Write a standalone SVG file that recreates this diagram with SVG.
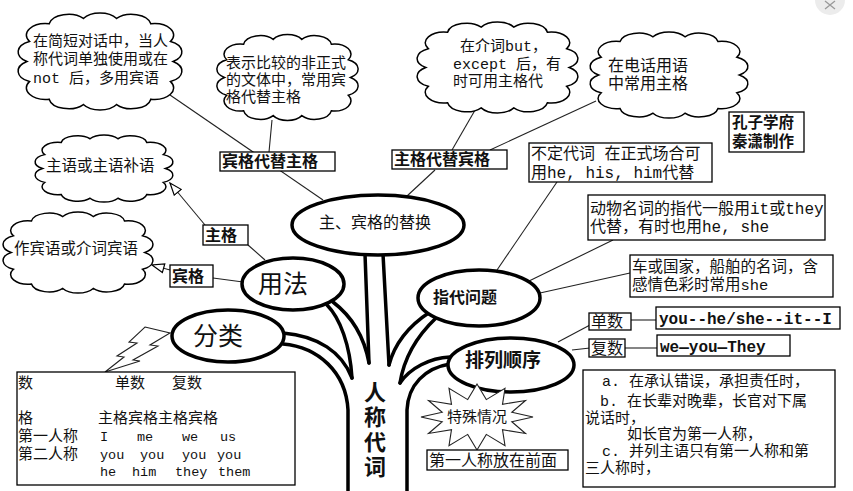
<svg xmlns="http://www.w3.org/2000/svg" xmlns:xlink="http://www.w3.org/1999/xlink" width="853" height="491" viewBox="0 0 853 491">
<style>
.cl{fill:#fff;stroke:#000}
.el{fill:#fff;stroke:#000;stroke-width:3.5}
.bx{fill:#fff;stroke:#000;stroke-width:1.3}
.ln{fill:none;stroke:#222;stroke-width:1.1}
.tr{fill:none;stroke:#000;stroke-width:3.5;stroke-linecap:round}
.t{font-family:"Noto Sans CJK SC",sans-serif;font-size:15px;fill:#111}
.ts{font-family:"Liberation Sans","Noto Sans CJK SC",sans-serif;font-size:15px;fill:#111}
.m{font-family:"Liberation Mono","Noto Sans CJK SC",monospace;font-size:15px;fill:#111}
.b{font-weight:bold}
.c{text-anchor:middle}
</style>
<defs>
<path id="cp" vector-effect="non-scaling-stroke" stroke-width="1.5" d="M90,0 A24,24 0 0 1 86.88,41.84 A24,24 0 0 1 62.61,78.5 A24,24 0 0 1 20.46,89.64 A24,24 0 0 1 -20.46,89.64 A24,24 0 0 1 -62.61,78.5 A24,24 0 0 1 -86.88,41.84 A24,24 0 0 1 -90,0 A24,24 0 0 1 -86.88,-41.84 A24,24 0 0 1 -62.61,-78.5 A24,24 0 0 1 -20.46,-89.64 A24,24 0 0 1 20.46,-89.64 A24,24 0 0 1 62.61,-78.5 A24,24 0 0 1 86.88,-41.84 A24,24 0 0 1 90,0 Z"/>
<marker id="tri" viewBox="0 0 14 11" refX="13" refY="5.5" markerWidth="14" markerHeight="11" orient="auto" markerUnits="userSpaceOnUse"><path d="M1,1 L13,5.5 L1,10 Z" fill="#fff" stroke="#000" stroke-width="1.2"/></marker>
</defs>
<rect width="853" height="491" fill="#fff"/>
<g id="close-icon"><circle cx="830" cy="0" r="15" fill="#ececec"/><path d="M825,1 L835,9 M835,1 L825,9" stroke="#999" stroke-width="1.3"/></g>

<g id="connectors">
<path class="ln" d="M170,95 L323,200"/>
<path class="ln" d="M272,120 L269,152"/>
<path class="ln" d="M478,105 L452,150"/>
<path class="ln" d="M596,101 L490,150"/>
<path class="ln" d="M435,170 L407,196"/>
<path class="ln" d="M557,182 L497,270"/>
<path class="ln" d="M613,240 L527,282"/>
<path class="ln" d="M630,273 L540,293"/>
<path class="ln" d="M558,342 L590,325"/>
<path class="ln" d="M572,350 L590,348"/>
<path class="ln" d="M631,320 L657,320"/>
<path class="ln" d="M625,348 L657,348"/>
<path class="ln" d="M248,245 L265,260"/>
<path class="ln" d="M213,278 L243,282"/>
<polygon points="145,327 170,333 150,345 158,346 133,360 140,361 105,372 124,357 117,356 137,343 129,342" fill="#fff" stroke="#222" stroke-width="1.1"/>
<path class="tr" d="M283,333 C318,336 342,352 352,378"/>
<path class="tr" d="M283,344 C318,347 346,372 348,410 L348,491"/>
<path class="tr" d="M327,305 C340,318 350,345 352,378"/>
<path class="tr" d="M333,302 C350,315 364,335 369,363"/>
<path class="tr" d="M365,254 L369,363"/>
<path class="tr" d="M383,254 L389,365"/>
<path class="tr" d="M430,312 C410,325 395,342 389,365"/>
<path class="tr" d="M436,318 C418,335 404,358 400,383"/>
<path class="tr" d="M450,357 C430,358 410,368 400,383"/>
<path class="tr" d="M450,364 C425,368 408,385 407,410 L407,491"/>
</g>

<g id="cloud-short-dialog">
<use xlink:href="#cp" class="cl" transform="translate(100,61.5) scale(0.812,0.48)"/>
<text class="m" x="33" y="46">在简短对话中，当人</text>
<text class="m" x="33" y="64">称代词单独使用或在</text>
<text class="m" x="33" y="83">not 后，多用宾语</text>
</g>
<g id="cloud-informal">
<use xlink:href="#cp" class="cl" transform="translate(287.5,77.5) scale(0.7,0.425)"/>
<text class="m" x="226" y="68">表示比较的非正式</text>
<text class="m" x="226" y="85">的文体中，常用宾</text>
<text class="m" x="226" y="102">格代替主格</text>
</g>
<g id="cloud-but">
<use xlink:href="#cp" class="cl" transform="translate(497.5,67.5) scale(0.797,0.45)"/>
<text class="m" x="460" y="51">在介词but，</text>
<text class="m" x="453" y="69">except 后，有</text>
<text class="m" x="453" y="86">时可用主格代</text>
</g>
<g id="cloud-phone">
<use xlink:href="#cp" class="cl" transform="translate(669,75) scale(0.782,0.426)"/>
<text class="m" style="font-size:16px" x="608" y="71">在电话用语</text>
<text class="m" style="font-size:16px" x="608" y="89">中常用主格</text>
</g>
<g id="cloud-subject">
<use xlink:href="#cp" class="cl" transform="translate(104,168.5) scale(0.683,0.332)"/>
<text class="m" style="font-size:15.5px" x="46" y="171">主语或主语补语</text>
</g>
<g id="cloud-object">
<use xlink:href="#cp" class="cl" transform="translate(78,252.5) scale(0.743,0.401)"/>
<text class="m" style="font-size:15.5px" x="14" y="254">作宾语或介词宾语</text>
</g>
<g id="arrows">
<path class="ln" d="M205,225 L170,183" marker-end="url(#tri)"/>
<path class="ln" d="M170,270 L152,265" marker-end="url(#tri)"/>
</g>

<g id="box-obj-for-subj"><rect class="bx" x="220" y="152" width="115" height="19"/><text class="t b" style="font-size:16px" x="222" y="167">宾格代替主格</text></g>
<g id="box-subj-for-obj"><rect class="bx" x="392" y="150" width="115" height="19"/><text class="t b" style="font-size:16px" x="394" y="165">主格代替宾格</text></g>
<g id="box-indef"><rect class="bx" x="529" y="143" width="183" height="39"/><text class="m" style="font-size:16px" x="531" y="159">不定代词 在正式场合可</text><text class="m" style="font-size:16px" x="531" y="178">用he, his, him代替</text></g>
<g id="box-animal"><rect class="bx" x="588" y="195" width="237" height="45"/><text class="m" style="font-size:16px" x="590" y="214">动物名词的指代一般用it或they</text><text class="m" style="font-size:16px" x="590" y="232">代替，有时也用he, she</text></g>
<g id="box-vehicle"><rect class="bx" x="630" y="255" width="203" height="42"/><text class="m" style="font-size:15.5px" x="632" y="272">车或国家，船舶的名词，含</text><text class="m" style="font-size:15.5px" x="632" y="290">感情色彩时常用she</text></g>
<g id="box-author"><rect class="bx" x="729" y="112" width="75" height="40"/><text class="ts b" style="font-size:15.5px" x="732" y="128">孔子学府</text><text class="ts b" style="font-size:15.5px" x="732" y="147">秦潇制作</text></g>
<g id="box-singular"><rect class="bx" x="589" y="313" width="42" height="17"/><text class="t" style="font-size:16px" x="591" y="327">单数</text></g>
<g id="box-plural"><rect class="bx" x="589" y="339" width="36" height="18"/><text class="t" style="font-size:16px" x="591" y="354">复数</text></g>
<g id="box-order-sg"><rect class="bx" x="656" y="307" width="184" height="22"/><text class="m b" style="font-size:16px" x="659" y="324">you--he/she--it--I</text></g>
<g id="box-order-pl"><rect class="bx" x="657" y="335" width="133" height="21"/><text class="m b" style="font-size:16px" x="660" y="352">we—you—They</text></g>
<g id="box-special">
<rect class="bx" x="583" y="370" width="252" height="117"/>
<text class="m" x="602" y="386">a. 在承认错误，承担责任时，</text>
<text class="m" x="600" y="406">b. 在长辈对晚辈，长官对下属</text>
<text class="m" x="585" y="423">说话时，</text>
<text class="m" x="627" y="439">如长官为第一人称，</text>
<text class="m" x="602" y="456">c. 并列主语只有第一人称和第</text>
<text class="m" x="585" y="473">三人称时，</text>
</g>
<g id="box-table">
<rect class="bx" x="17" y="372" width="278" height="113"/>
<text class="ts" x="18" y="388">数</text>
<text class="ts" x="115" y="388">单数</text>
<text class="ts" x="172" y="388">复数</text>
<text class="ts" x="18" y="423">格</text>
<text class="ts" x="98" y="423">主格宾格主格宾格</text>
<text class="ts" x="18" y="441">第一人称</text>
<text class="ts" x="18" y="459">第二人称</text>
<g class="m" style="font-size:13.5px">
<text x="100" y="441">I</text><text x="137" y="441">me</text><text x="182" y="441">we</text><text x="220" y="441">us</text>
<text x="100" y="459">you</text><text x="140" y="459">you</text><text x="182" y="459">you</text><text x="217" y="459">you</text>
<text x="100" y="476">he</text><text x="132" y="476">him</text><text x="175" y="476">they</text><text x="218" y="476">them</text>
</g>
</g>
<g id="box-subj"><rect class="bx" x="203" y="225" width="45" height="20"/><text class="t b" style="font-size:16px" x="205" y="241">主格</text></g>
<g id="box-obj"><rect class="bx" x="170" y="265" width="43" height="22"/><text class="t b" style="font-size:16px" x="172" y="282">宾格</text></g>

<g id="node-swap"><ellipse class="el" cx="378" cy="225" rx="86" ry="30"/><text class="t c" style="font-size:16px" x="375" y="228">主、宾格的替换</text></g>
<g id="node-usage"><ellipse class="el" cx="293" cy="284" rx="51" ry="26"/><text class="t c" style="font-size:25px" x="283" y="293">用法</text></g>
<g id="node-class"><ellipse class="el" cx="228" cy="336" rx="56" ry="26"/><text class="t c" style="font-size:25px" x="218" y="345">分类</text></g>
<g id="node-ref"><ellipse class="el" cx="479" cy="298" rx="61" ry="28"/><text class="t b c" style="font-size:16px" x="465" y="303">指代问题</text></g>
<g id="node-order"><ellipse class="el" cx="511" cy="365" rx="63" ry="27"/><text class="t b c" style="font-size:19px" x="503" y="367">排列顺序</text></g>
<g id="node-trunk">
<text class="t b" style="font-size:22px;writing-mode:vertical-rl;letter-spacing:3px" x="375" y="381">人称代词</text>
</g>
<g id="node-special-burst">
<polygon fill="#fff" stroke="#222" stroke-width="1.1" points="533,417 511.8,421.7 525.5,433.5 502.5,429.7 505,445.6 486.3,434.4 477,450 467.7,434.4 449,445.6 451.5,429.7 428.5,433.5 442.2,421.7 421,417 442.2,412.3 428.5,400.5 451.5,404.3 449,388.4 467.7,399.6 477,384 486.3,399.6 505,388.4 502.5,404.3 525.5,400.5 511.8,412.3"/>
<text class="t c" x="477" y="422">特殊情况</text>
</g>
<g id="box-first-front"><rect class="bx" x="427" y="450" width="141" height="20"/><text class="t" style="font-size:16px" x="429" y="466">第一人称放在前面</text></g>
</svg>
